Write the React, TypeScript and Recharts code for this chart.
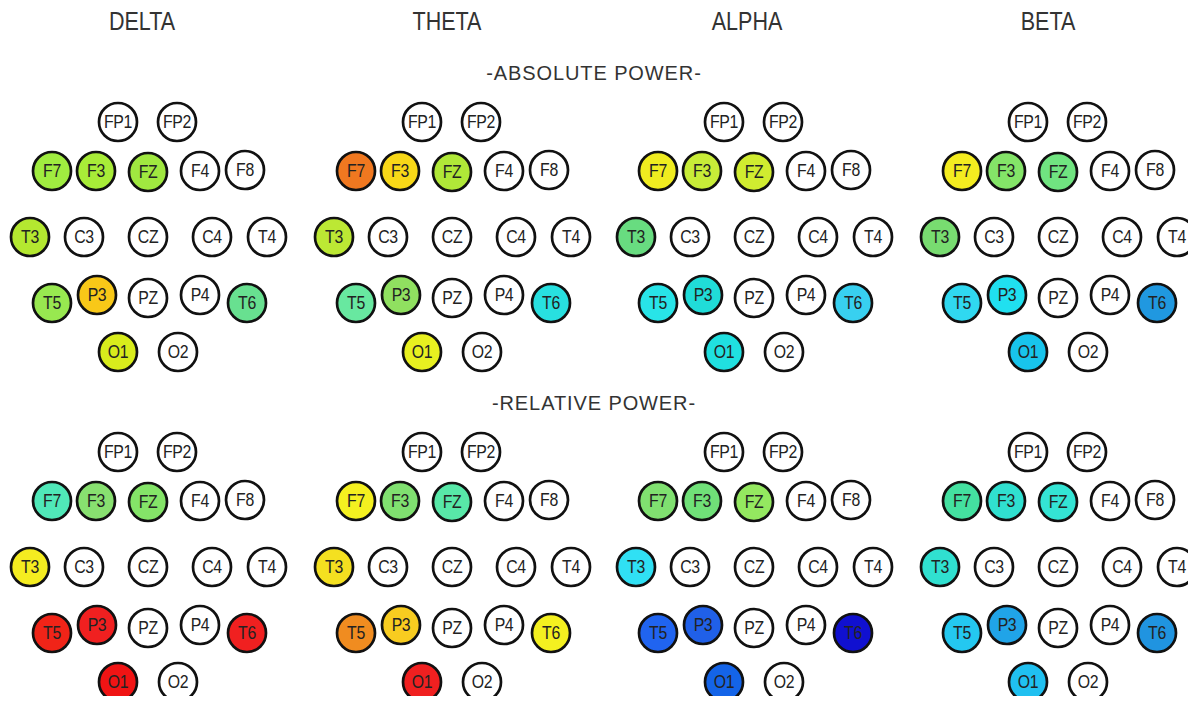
import { ScatterChart, Scatter, XAxis, YAxis } from 'recharts'

// 10-20 montage, electrode positions relative to CZ
const electrodes = ['FP1', 'FP2', 'F7', 'F3', 'FZ', 'F4', 'F8', 'T3', 'C3', 'CZ', 'C4', 'T4', 'T5', 'P3', 'PZ', 'P4', 'T6', 'O1', 'O2']
const posX = [-30, 29, -96, -52, 0, 52, 97, -118, -64, 0, 64, 119, -96, -51, 0, 52, 99, -30, 30]
const posY = [115, 115, 66, 66, 65, 66, 67, 0, 0, 0, 0, 0, -66, -58, -61, -58, -66, -115, -115]

const bands = ['DELTA', 'THETA', 'ALPHA', 'BETA']
const sections = ['-ABSOLUTE POWER-', '-RELATIVE POWER-']

// electrodes that carry a colour, the rest stay white
const marked = ['F7', 'F3', 'FZ', 'T3', 'T5', 'P3', 'T6', 'O1']

const absDelta = ['#a0ec40', '#a8ec38', '#a0e840', '#b4e830', '#98e850', '#f8c818', '#68e090', '#d8ec1c']
const absTheta = ['#f07820', '#f8d818', '#b0e838', '#bce834', '#68e8a0', '#90e060', '#28e0e0', '#e8f020']
const absAlpha = ['#f0ec20', '#c8ec38', '#d0ec30', '#68dc80', '#28e4e8', '#20dcd8', '#38d0f0', '#20e0e0']
const absBeta = ['#f4ec20', '#84e468', '#70e480', '#78dc70', '#30d8f0', '#20e0f0', '#2098e0', '#18c4ec']

const relDelta = ['#50e8b8', '#88e070', '#84e468', '#f4ec20', '#f02418', '#f02020', '#f02020', '#f01414']
const relTheta = ['#f4f020', '#80e070', '#58e8a8', '#f4e020', '#f08c20', '#f8cc20', '#f4f020', '#f02020']
const relAlpha = ['#80e070', '#70e078', '#94e860', '#30e0f4', '#2064f0', '#2060e8', '#1010d0', '#1464e8']
const relBeta = ['#44e0a0', '#30e0d0', '#34e4d4', '#30e0d0', '#24c8f0', '#20a4e8', '#2094e0', '#20c0f0']

const absolute = [absDelta, absTheta, absAlpha, absBeta]
const relative = [relDelta, relTheta, relAlpha, relBeta]

const panelLeft = [0, 304, 606, 910]
const panelTop = [92, 422]
const titleCenter = [142, 447, 747, 1048]

const font = '"Liberation Sans", Arial, sans-serif'

function buildData(colors: string[]) {
  return electrodes.map((name, i) => {
    const k = marked.indexOf(name)
    return { name, x: posX[i], y: posY[i], fill: k >= 0 ? colors[k] : '#ffffff' }
  })
}

function Electrode(props: any) {
  const { cx, cy, payload } = props
  return (
    <g>
      <circle cx={cx} cy={cy} r={19} fill={payload.fill} stroke="#111" strokeWidth={2.7} />
      <text
        transform={`translate(${cx},${cy}) scale(0.88,1)`}
        dy="0.36em"
        textAnchor="middle"
        fontSize={18}
        letterSpacing={-0.4}
        fontFamily={font}
        fill="#222"
      >
        {payload.name}
      </text>
    </g>
  )
}

function Head({ colors }: { colors: string[] }) {
  return (
    <ScatterChart width={300} height={290} margin={{ top: 0, right: 0, bottom: 0, left: 0 }}>
      <XAxis type="number" dataKey="x" domain={[-148, 152]} hide />
      <YAxis type="number" dataKey="y" domain={[-145, 145]} hide />
      <Scatter data={buildData(colors)} shape={Electrode} isAnimationActive={false} />
    </ScatterChart>
  )
}

export default function App() {
  return (
    <div
      style={{
        position: 'relative',
        width: 1196,
        height: 704,
        margin: -8,
        overflow: 'hidden',
        background: '#fff',
        fontFamily: font,
        color: '#333',
      }}
    >
      {bands.map((b, i) => (
        <div
          key={b}
          style={{
            position: 'absolute',
            left: titleCenter[i] - 100,
            width: 200,
            top: 7,
            textAlign: 'center',
            fontSize: 25,
            transform: 'scaleX(0.86)',
          }}
        >
          {b}
        </div>
      ))}
      {sections.map((s, r) => (
        <div
          key={s}
          style={{
            position: 'absolute',
            left: 444,
            width: 300,
            top: 62 + r * 330,
            textAlign: 'center',
            fontSize: 20,
            letterSpacing: 0.9,
          }}
        >
          {s}
        </div>
      ))}
      {[absolute, relative].map((row, r) =>
        row.map((colors, i) => (
          <div key={`${r}-${i}`} style={{ position: 'absolute', left: panelLeft[i], top: panelTop[r] }}>
            <Head colors={colors} />
          </div>
        ))
      )}
    </div>
  )
}
